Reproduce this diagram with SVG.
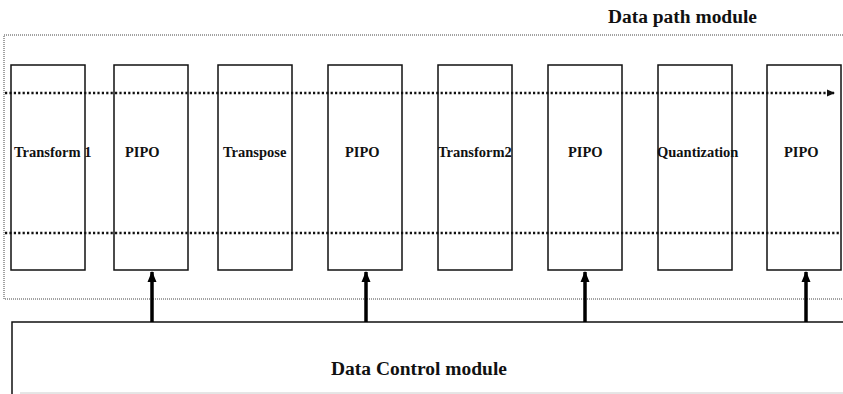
<svg xmlns="http://www.w3.org/2000/svg" width="843" height="394" viewBox="0 0 843 394">
<defs>
<style>
.box{fill:#fff;stroke:#111;stroke-width:1.5}
.lbl{font-family:"Liberation Serif","Times New Roman",serif;font-weight:bold;font-size:14.5px;fill:#111}
.title{font-family:"Liberation Serif","Times New Roman",serif;font-weight:bold;font-size:18.5px;fill:#111}
.bus{stroke:#111;stroke-width:2.6;stroke-dasharray:2.2 2.2;fill:none}
.ctl{stroke:#000;stroke-width:3.5;fill:none}
</style>
<marker id="dotArrow" markerWidth="8" markerHeight="8" refX="7" refY="4" orient="auto" markerUnits="userSpaceOnUse">
<path d="M0,0.5 L8,4 L0,7.5 Z" fill="#111"/>
</marker>
<marker id="ctlArrow" markerWidth="11" markerHeight="10" refX="10" refY="5" orient="auto" markerUnits="userSpaceOnUse">
<path d="M0,0.5 L11,5 L0,9.5 Z" fill="#000"/>
</marker>
</defs>
<rect width="843" height="394" fill="#fff"/>

<g id="datapath-module">
<path d="M849,35 L4,35 L4,299 L849,299" fill="none" stroke="#444" stroke-width="1" stroke-dasharray="1 1"/>
<text class="title" x="608" y="23" textLength="149" lengthAdjust="spacingAndGlyphs">Data path module</text>
</g>

<g id="control-module">
<path d="M849,322 L12,322 L12,394" fill="none" stroke="#111" stroke-width="1.5"/>
<line x1="20" y1="393" x2="843" y2="393" stroke="#ccc" stroke-width="1"/>
<text class="title" x="331" y="375" textLength="176" lengthAdjust="spacingAndGlyphs">Data Control module</text>
</g>

<g id="transform1"><rect class="box" x="11" y="65" width="74" height="205"/><text class="lbl" x="14" y="157">Transform 1</text></g>
<g id="pipo1"><rect class="box" x="114" y="65" width="74" height="205"/><text class="lbl" x="125" y="157">PIPO</text></g>
<g id="transpose"><rect class="box" x="218" y="65" width="74" height="205"/><text class="lbl" x="223" y="157">Transpose</text></g>
<g id="pipo2"><rect class="box" x="328" y="65" width="74" height="205"/><text class="lbl" x="345" y="157">PIPO</text></g>
<g id="transform2"><rect class="box" x="438" y="65" width="74" height="205"/><text class="lbl" x="438" y="157">Transform2</text></g>
<g id="pipo3"><rect class="box" x="548" y="65" width="74" height="205"/><text class="lbl" x="568" y="157">PIPO</text></g>
<g id="quantization"><rect class="box" x="658" y="65" width="74" height="205"/><text class="lbl" x="657" y="157">Quantization</text></g>
<g id="pipo4"><rect class="box" x="767" y="65" width="74" height="205"/><text class="lbl" x="784" y="157">PIPO</text></g>

<g id="connectors">
<line class="bus" x1="5" y1="93" x2="834" y2="93" marker-end="url(#dotArrow)"/>
<line class="bus" x1="5" y1="233" x2="841" y2="233"/>
<line class="ctl" x1="152" y1="322" x2="152" y2="272" marker-end="url(#ctlArrow)"/>
<line class="ctl" x1="366" y1="322" x2="366" y2="272" marker-end="url(#ctlArrow)"/>
<line class="ctl" x1="585" y1="322" x2="585" y2="272" marker-end="url(#ctlArrow)"/>
<line class="ctl" x1="806" y1="322" x2="806" y2="272" marker-end="url(#ctlArrow)"/>
</g>
</svg>
